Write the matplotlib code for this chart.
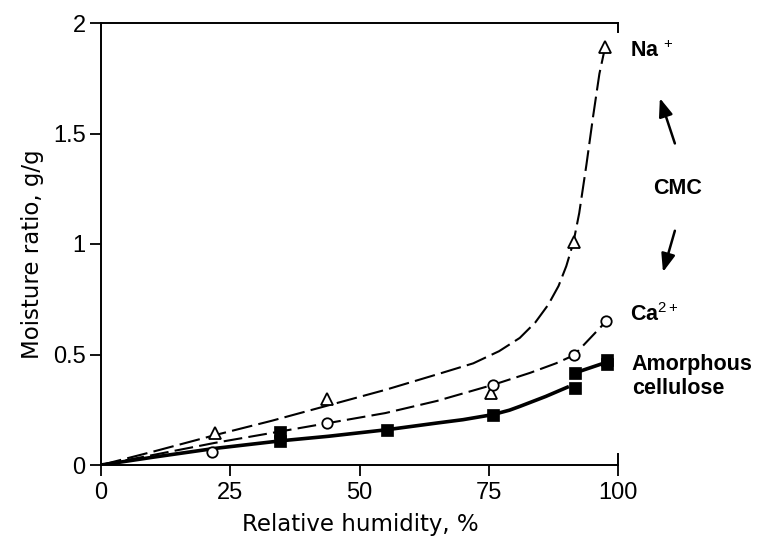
import matplotlib
matplotlib.use("Agg")
import matplotlib.pyplot as plt

# ---- data ----
rh_na = [22.0, 43.8, 75.5, 91.4, 97.5]
mr_na = [0.144, 0.30, 0.326, 1.01, 1.89]
rh_ca = [21.5, 43.8, 75.8, 91.5, 97.7]
mr_ca = [0.06, 0.19, 0.364, 0.497, 0.65]
rh_cel = [34.6, 34.6, 55.4, 75.8, 91.7, 91.7, 97.8, 97.8]
mr_cel = [0.109, 0.15, 0.16, 0.227, 0.35, 0.417, 0.455, 0.473]

# fitted curves
na_fit_x = [0, 10, 22, 33, 44, 55, 65, 72, 77, 81, 84, 86.5, 88.5, 90, 91.4, 92.5, 93.9, 95.2, 96.4, 97.5]
na_fit_y = [0, 0.06, 0.135, 0.20, 0.27, 0.34, 0.41, 0.46, 0.515, 0.575, 0.645, 0.725, 0.81, 0.90, 1.01, 1.14, 1.36, 1.58, 1.77, 1.89]
ca_fit_x = [0, 10, 22, 33, 44, 55, 65, 76, 83, 88, 91.5, 97.7]
ca_fit_y = [0, 0.045, 0.10, 0.145, 0.19, 0.235, 0.29, 0.364, 0.417, 0.46, 0.497, 0.65]
cel_fit_x = [0, 10, 22, 35, 44, 55.4, 65, 70, 75.8, 79, 81, 83, 86, 90.5]
cel_fit_y = [0, 0.035, 0.075, 0.11, 0.13, 0.16, 0.19, 0.205, 0.228, 0.248, 0.265, 0.283, 0.31, 0.355]
cel_tail_x = [91.7, 97.8]
cel_tail_y = [0.417, 0.465]

x_ticks = [0, 25, 50, 75, 100]
x_ticklabels = ["0", "25", "50", "75", "100"]
y_ticks = [0, 0.5, 1, 1.5, 2]
y_ticklabels = ["0", "0.5", "1", "1.5", "2"]

plt.rcParams['mathtext.fontset'] = 'custom'
plt.rcParams['mathtext.rm'] = 'Liberation Sans'
plt.rcParams['mathtext.bf'] = 'Liberation Sans:bold'

fig = plt.figure(figsize=(7.6, 5.38), dpi=100)
ax = fig.add_axes([101/760, 1 - 465/538, 517/760, 442/538])

ax.plot(na_fit_x, na_fit_y, color='black', lw=1.5, dashes=(10, 3), dash_capstyle='butt')
ax.plot(ca_fit_x, ca_fit_y, color='black', lw=1.5, dashes=(9, 3), dash_capstyle='butt')
ax.plot(cel_fit_x, cel_fit_y, color='black', lw=2.6, solid_capstyle='butt')
ax.plot(cel_tail_x, cel_tail_y, color='black', lw=2.6, solid_capstyle='butt')

ax.plot(rh_na, mr_na, ls='none', marker='^', ms=9, mfc='white', mec='black', mew=1.3, zorder=5)
ax.plot(rh_ca, mr_ca, ls='none', marker='o', ms=7.5, mfc='white', mec='black', mew=1.3, zorder=5)
ax.plot(rh_cel, mr_cel, ls='none', marker='s', ms=8, mfc='black', mec='black', mew=0.5, zorder=5)

ax.set_xlim(0, 100)
ax.set_ylim(0, 2)
ax.set_xticks(x_ticks)
ax.set_xticklabels(x_ticklabels)
ax.set_yticks(y_ticks)
ax.set_yticklabels(y_ticklabels)

for lab in ax.get_xticklabels() + ax.get_yticklabels():
    lab.set_fontfamily(['Liberation Sans', 'DejaVu Sans'])
    lab.set_fontsize(17)

ax.tick_params(axis='both', direction='out', length=8, width=1.3, color='black')
ax.tick_params(axis='x', pad=4)
ax.tick_params(axis='y', pad=3)

for side in ['left', 'bottom', 'top', 'right']:
    ax.spines[side].set_linewidth(1.4)
ax.spines['right'].set_bounds(1.96, 2.0)
ax.plot([1, 1], [0, 0.026], transform=ax.transAxes, color='black', lw=1.4, clip_on=False)

ax.set_xlabel("Relative humidity, %", fontsize=16.5, family='DejaVu Sans', va='center')
ax.xaxis.set_label_coords((360 - 101) / 517, (465 - 524) / 442)
ax.set_ylabel("Moisture ratio, g/g", fontsize=16.5, family='DejaVu Sans', va='center', ha='center')
ax.yaxis.set_label_coords((33 - 101) / 517, (465 - 254) / 442)

lab_kw = dict(fontsize=15.5, fontweight='bold', family='Liberation Sans', ha='left', va='center', clip_on=False)
ax.text(102.3, 1.873, r"$\mathbf{Na}^{\,+}$", **lab_kw)
ax.text(106.8, 1.25, "CMC", **lab_kw)
ax.text(102.3, 0.68, r"$\mathbf{Ca}^{2+}$", **lab_kw)
ax.text(102.7, 0.40, "Amorphous\ncellulose", linespacing=1.15, **lab_kw)

arrow_kw = dict(arrowstyle='-|>,head_length=1.1,head_width=0.42', color='black', lw=1.8, shrinkA=0, shrinkB=0)
ax.annotate("", xy=(108.1, 1.66), xytext=(111.0, 1.455), arrowprops=arrow_kw, annotation_clip=False)
ax.annotate("", xy=(108.7, 0.873), xytext=(111.0, 1.06), arrowprops=arrow_kw, annotation_clip=False)

fig.savefig("out.png", dpi=100)
